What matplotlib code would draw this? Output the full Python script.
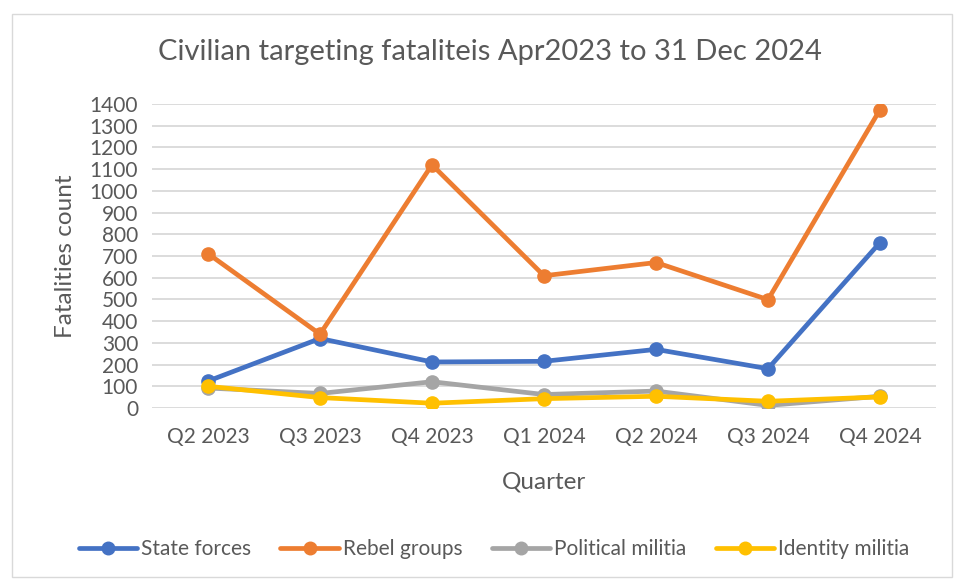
import matplotlib
matplotlib.use("Agg")
import matplotlib.pyplot as plt
from matplotlib.patches import Rectangle

plt.rcParams['font.family'] = ['Lato', 'DejaVu Sans']

quarters = ["Q2 2023", "Q3 2023", "Q4 2023", "Q1 2024", "Q2 2024", "Q3 2024", "Q4 2024"]
state_forces = [124, 320, 212, 215, 270, 181, 762]
rebel_groups = [711, 340, 1120, 609, 670, 499, 1374]
political_militia = [92, 67, 121, 62, 78, 12, 54]
identity_militia = [100, 48, 22, 43, 54, 31, 51]

series = [
    ("State forces", state_forces, "#4472C4"),
    ("Rebel groups", rebel_groups, "#ED7D31"),
    ("Political militia", political_militia, "#A5A5A5"),
    ("Identity militia", identity_militia, "#FFC000"),
]

W, H = 955, 579
fig = plt.figure(figsize=(W / 100, H / 100), dpi=100)
ax = fig.add_axes([152 / W, 1 - 408 / H, (936 - 152) / W, (408 - 104) / H])

x = list(range(len(quarters)))
for name, vals, col in series:
    ax.plot(x, vals, color=col, lw=3.4, marker="o", markersize=9.5,
            label=name, solid_capstyle="round", solid_joinstyle="round")

ax.set_xlim(-0.5, len(quarters) - 0.5)
ax.set_ylim(0, 1400)
ax.set_yticks(range(0, 1401, 100))
ax.set_xticks(x)
ax.set_xticklabels(quarters)
ax.grid(axis="y", color="#D9D9D9", lw=1.3)
ax.set_axisbelow(True)
for s in ax.spines.values():
    s.set_visible(False)
ax.tick_params(axis="both", length=0, labelsize=15, colors="#595959")
ax.tick_params(axis="x", pad=14)
ax.tick_params(axis="y", pad=10)

ax.set_ylabel("Fatalities count", fontsize=17.5, color="#595959", labelpad=10)
ax.set_xlabel("Quarter", fontsize=17.5, color="#595959", labelpad=17)

fig.text(490 / W, 1 - 52 / H, "Civilian targeting fataliteis Apr2023 to 31 Dec 2024",
         ha="center", va="center", fontsize=21, color="#595959")

leg = fig.legend(loc="center", bbox_to_anchor=(494 / W, 1 - 549 / H), ncol=4,
                 frameon=False, fontsize=15, handlelength=2.8, columnspacing=1.4,
                 handletextpad=0.2, markerscale=0.95)
for t in leg.get_texts():
    t.set_color("#595959")

fig.patches.append(Rectangle((12 / W, 2 / H), (952 - 12) / W, (577 - 14) / H,
                             transform=fig.transFigure, fill=False,
                             edgecolor="#D9D9D9", lw=1))

fig.savefig("out.png", dpi=100, facecolor="white")
